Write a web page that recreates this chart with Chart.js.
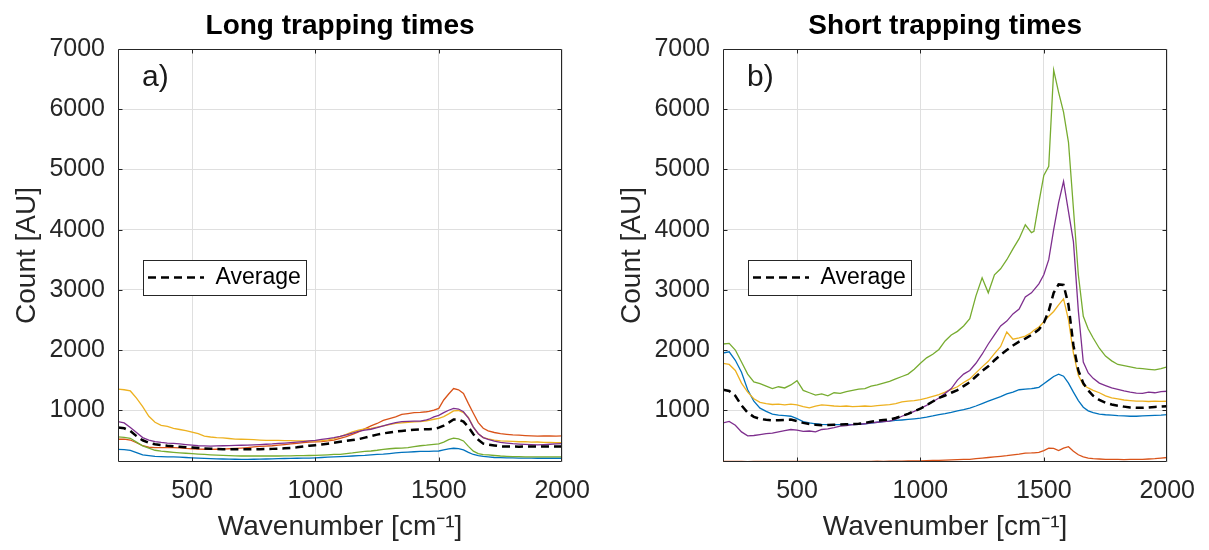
<!DOCTYPE html>
<html>
<head>
<meta charset="utf-8">
<script src="https://cdn.jsdelivr.net/npm/chart.js@4.4.1/dist/chart.umd.min.js"></script>
<style>
  html, body { margin: 0; padding: 0; background: #ffffff; }
  #wrap { position: relative; width: 1209px; height: 550px; overflow: hidden; }
  .panel { position: absolute; top: 0; width: 604px; height: 550px; }
  #p1 { left: 0; }
  #p2 { left: 605px; }
</style>
</head>
<body>
<div id="wrap">
  <div class="panel" id="p1"><canvas id="c1" width="604" height="550"></canvas></div>
  <div class="panel" id="p2"><canvas id="c2" width="604" height="550"></canvas></div>
</div>
<script>
// ---------------- data ----------------
const WAVENUMBERS = [200,225,250,275,300,325,350,375,400,425,450, 475,500,525,550,575,600,625,650,675,700, 725,750,775,800,825,850,875,900,925,950, 975,1000,1025,1050,1075,1100,1125,1150,1175,1200, 1225,1250,1275,1300,1325,1350,1375,1400,1425,1450, 1460,1480,1500,1520,1540,1560,1580,1600,1620,1640,1660,1680,1700, 1725,1750,1775,1800,1825,1850,1875,1900,1925,1950,1975,2000];

const PANEL_TITLES = ['Long trapping times', 'Short trapping times'];
const PANEL_TAGS = ['a)', 'b)'];
const SERIES_NAMES = ['Spectrum 1', 'Spectrum 2', 'Spectrum 3', 'Spectrum 4', 'Spectrum 5', 'Average'];
const X_MIN = 200, X_MAX = 2000, X_STEP = 500;
const Y_MIN = 140, Y_MAX = 7000, Y_STEP = 1000;
const X_LABEL = 'Wavenumber [cm\u207B\u00B9]';
const Y_LABEL = 'Count [AU]';

// Long trapping times
const LONG_BLUE = [351,345,334,295,257,245,235,230,226,224,220, 215,210,205,200,196,192,190,188,186,185, 185,186,188,190,193,196,198,200,202,204, 206,210,215,220,225,230,235,240,245,250, 258,265,270,279,290,300,305,310,315,318, 318,320,323,340,358,368,362,340,300,265,245,232,224, 215,212,210,208,205,204,203,202,202,202,202,202];
const LONG_ORANGE = [518,520,505,460,410,385,380,378,380,379,375, 365,360,355,352,350,352,355,360,365,372, 380,390,400,405,410,420,430,440,450,462, 470,475,480,490,505,534,560,600,640,690, 739,780,830,860,890,930,945,961,965,975, 980,1000,1030,1170,1270,1360,1340,1280,1110,950,795,700,656, 630,612,600,590,585,578,573,570,572,575,570,573];
const LONG_YELLOW = [1349,1340,1320,1200,1060,900,800,750,730,700,680, 660,635,610,570,555,545,540,530,520,518, 515,510,505,500,500,498,495,495,490,490, 488,490,495,505,530,560,600,640,670,690, 700,720,740,760,780,790,800,805,810,825, 830,850,865,895,940,990,995,960,880,720,610,545,525, 505,492,486,481,476,477,470,472,466,467,461,463];
const LONG_PURPLE = [811,790,712,630,545,505,480,465,455,448,440, 430,420,410,407,405,408,410,412,415,418, 420,423,428,435,440,448,455,462,470,479, 490,500,515,530,545,565,590,620,650,670, 684,710,740,770,795,811,815,818,820,840, 850,890,915,960,1000,1030,1020,975,870,720,610,545,515, 485,465,455,445,438,432,428,425,430,435,440,446];
const LONG_GREEN = [556,550,534,470,407,370,335,320,310,300,292, 285,279,272,265,260,255,250,245,242,240, 240,240,240,240,240,240,242,242,245,245, 248,250,255,260,265,268,280,290,305,315, 323,335,350,360,368,370,380,395,410,420, 425,432,440,470,510,535,525,490,400,320,280,262,257, 248,240,235,230,228,226,225,224,224,224,224,226];
const LONG_AVERAGE = [712,700,656,570,501,460,435,423,410,400,392, 385,379,372,365,360,355,352,351,351,351, 352,352,353,355,358,362,368,375,385,398, 410,420,432,445,460,475,490,505,520,545, 570,595,615,630,645,655,665,675,680,684, 686,690,710,745,795,845,845,810,720,600,510,445,430, 415,400,396,396,395,396,396,396,397,396,396,396];

// Short trapping times
const SHORT_BLUE = [1950,1970,1830,1630,1340,1150,1035,980,935,920,910, 900,860,810,790,775,765,760,762,760,765, 762,765,775,785,800,810,818,830,838,848, 858,870,885,905,928,945,965,990,1010,1035, 1070,1110,1150,1190,1225,1270,1300,1340,1350,1360, 1365,1380,1440,1500,1560,1600,1565,1450,1300,1160,1050,990,960, 935,925,920,910,905,900,900,905,910,915,920,928];
const SHORT_ORANGE = [150,152,148,150,147,150,149,151,150,150,148, 150,152,150,148,150,150,149,151,152,150, 150,151,150,152,153,152,154,155,156,157, 158,160,162,165,168,172,175,178,182,185, 195,205,215,225,235,245,258,270,288,290, 292,300,330,370,365,330,370,395,320,260,225,205,195, 190,185,183,182,180,182,182,185,190,195,205,215];
const SHORT_YELLOW = [1780,1760,1660,1450,1300,1190,1130,1110,1095,1100,1090, 1100,1090,1060,1040,1070,1090,1080,1070,1065,1070, 1060,1065,1070,1065,1075,1085,1094,1110,1140,1150, 1160,1175,1200,1230,1260,1300,1345,1390,1460,1520, 1620,1720,1812,1940,2060,2300,2180,2200,2230,2290, 2330,2380,2470,2560,2640,2750,2850,2500,1950,1580,1420,1370,1330, 1290,1240,1205,1190,1170,1160,1150,1150,1145,1150,1148,1149];
const SHORT_PURPLE = [790,815,750,640,575,580,595,610,620,640,660, 680,670,650,655,640,680,690,710,735,745, 760,765,775,790,800,810,818,850,900,940, 980,1030,1080,1140,1204,1280,1360,1500,1600,1660, 1780,1930,2100,2250,2400,2480,2600,2680,2880,2950, 3000,3100,3250,3500,4000,4450,4800,4300,3800,2650,1800,1620,1530, 1450,1410,1370,1345,1320,1300,1285,1280,1300,1290,1310,1315];
const SHORT_GREEN = [2100,2110,2000,1800,1600,1470,1440,1400,1360,1390,1370, 1420,1490,1330,1290,1250,1270,1240,1290,1280,1310, 1330,1350,1360,1400,1420,1450,1480,1520,1560,1600, 1680,1780,1870,1930,2010,2150,2250,2310,2400,2520, 2900,3200,2950,3250,3350,3500,3680,3850,4080,3950, 3970,4450,4900,5050,6650,6280,5950,5450,4350,3250,2560,2350,2200, 2030,1900,1820,1760,1740,1720,1700,1690,1680,1670,1690,1720];
const SHORT_AVERAGE = [1340,1320,1240,1080,960,890,855,840,830,835,840, 845,820,790,772,760,752,755,758,762,765, 770,775,790,810,825,838,845,870,905,940, 985,1025,1085,1145,1204,1245,1290,1335,1400,1465, 1560,1650,1730,1830,1920,2000,2075,2140,2190,2250, 2280,2340,2450,2650,2950,3090,3080,2750,2080,1660,1450,1330,1240, 1170,1125,1095,1075,1060,1045,1040,1040,1045,1055,1060,1066];

// ---------------- styling ----------------
const FONT = "'Liberation Sans', Arial, Helvetica, sans-serif";
const AXIS_COLOR = '#262626';
const GRID_COLOR = '#dfdfdf';
const COLORS = ['#0072BD', '#D95319', '#EDB120', '#7E2F8E', '#77AC30'];
const AVG_DASH = [8, 5];

[LONG_BLUE, LONG_ORANGE, LONG_YELLOW, LONG_PURPLE, LONG_GREEN, LONG_AVERAGE,
 SHORT_BLUE, SHORT_ORANGE, SHORT_YELLOW, SHORT_PURPLE, SHORT_GREEN, SHORT_AVERAGE].forEach((a, i) => {
  if (a.length !== WAVENUMBERS.length) throw new Error('series ' + i + ' has ' + a.length + ' values');
});

function toPoints(ys) { return WAVENUMBERS.map((x, i) => ({ x: x, y: ys[i] })); }

function makeDatasets(series, avg) {
  const ds = [{
    label: SERIES_NAMES[5], data: toPoints(avg), borderColor: '#000000', backgroundColor: '#000000',
    borderWidth: 2.5, borderDash: AVG_DASH, pointRadius: 0, tension: 0, fill: false
  }];
  // draw order: index 0 on top
  for (let k = series.length - 1; k >= 0; k--) {
    ds.push({
      label: SERIES_NAMES[k], data: toPoints(series[k]), borderColor: COLORS[k], backgroundColor: COLORS[k],
      borderWidth: 1.3, pointRadius: 0, tension: 0, fill: false
    });
  }
  return ds;
}

function stepTicks(min, max, step) {
  const out = [];
  for (let v = Math.ceil(min / step) * step; v <= max + 1e-9; v += step) out.push({ value: v });
  return out;
}

const framePlugin = {
  id: 'frame',
  afterLayout(chart, args, opts) {
    const lg = chart.legend, ca = chart.chartArea;
    if (!lg) return;
    const w = lg.width, h = lg.height;
    lg.left = ca.left + opts.legendDX;
    lg.top = ca.top + opts.legendDY;
    lg.right = lg.left + w;
    lg.bottom = lg.top + h;
    if (!lg._boxed) {
      const orig = lg.draw.bind(lg);
      lg.draw = function () {
        const ctx = chart.ctx;
        const lo = lg.options.labels;
        const fs = lo.font.size;
        ctx.save();
        ctx.font = fs + 'px ' + FONT;
        const tw = ctx.measureText(SERIES_NAMES[5]).width;
        const bw = lo.padding * 2 + lo.pointStyleWidth + fs / 2 + tw;
        const bh = lo.padding * 2 + fs + 2;
        const x0 = Math.round(lg.left) + 0.5, y0 = Math.round(lg.top) - 0.5;
        ctx.fillStyle = '#ffffff';
        ctx.fillRect(x0, y0, Math.round(bw), Math.round(bh));
        ctx.strokeStyle = '#262626';
        ctx.lineWidth = 1;
        ctx.strokeRect(x0, y0, Math.round(bw), Math.round(bh));
        ctx.restore();
        orig();
      };
      lg._boxed = true;
    }
  },
  afterDraw(chart, args, opts) {
    const ctx = chart.ctx, ca = chart.chartArea;
    const xs = chart.scales.x, ys = chart.scales.y;
    ctx.save();
    ctx.strokeStyle = AXIS_COLOR;
    ctx.lineWidth = 1;
    const L = Math.round(ca.left) + 0.5, R = Math.round(ca.right) - 0.5;
    const T = Math.round(ca.top) + 0.5, B = Math.round(ca.bottom) - 0.5;
    ctx.beginPath();
    ctx.rect(L, T, R - L, B - T);
    ctx.stroke();
    const tl = 4;
    ctx.beginPath();
    xs.ticks.forEach(t => {
      const p = Math.round(xs.getPixelForValue(t.value)) + 0.5;
      if (p <= L + 1 || p >= R - 1) return;
      ctx.moveTo(p, B); ctx.lineTo(p, B - tl);
      ctx.moveTo(p, T); ctx.lineTo(p, T + tl);
    });
    ys.ticks.forEach(t => {
      const p = Math.round(ys.getPixelForValue(t.value)) + 0.5;
      if (p <= T + 1 || p >= B - 1) return;
      ctx.moveTo(L, p); ctx.lineTo(L + tl, p);
      ctx.moveTo(R, p); ctx.lineTo(R - tl, p);
    });
    ctx.stroke();
    // panel tag
    ctx.fillStyle = '#1a1a1a';
    ctx.font = '30px ' + FONT;
    ctx.textBaseline = 'middle';
    ctx.textAlign = 'left';
    ctx.fillText(opts.tag, ca.left + opts.tagDX, ca.top + opts.tagDY);
    ctx.restore();
  }
};

function makeChart(canvasId, title, tag, series, avg, rightPad) {
  return new Chart(document.getElementById(canvasId), {
    type: 'line',
    data: { datasets: makeDatasets(series, avg) },
    options: {
      responsive: false,
      devicePixelRatio: 1,
      animation: false,
      events: [],
      layout: { padding: { left: 0, right: rightPad, top: 0, bottom: 0 } },
      plugins: {
        tooltip: { enabled: false },
        title: {
          display: true, text: title, fullSize: false, color: '#000000',
          font: { family: FONT, size: 28, weight: 'bold', lineHeight: 1.2 },
          padding: { top: 9, bottom: 6.4 }
        },
        legend: {
          display: true, position: 'chartArea', align: 'start',
          labels: {
            filter: item => item.text === SERIES_NAMES[5],
            generateLabels: chart => Chart.defaults.plugins.legend.labels.generateLabels(chart).map(item => {
              const ds = chart.data.datasets[item.datasetIndex];
              item.lineDash = ds.borderDash || [];
              item.lineWidth = ds.borderWidth;
              item.strokeStyle = ds.borderColor;
              return item;
            }),
            usePointStyle: true, pointStyle: 'line', pointStyleWidth: 56,
            padding: 5, color: '#000000',
            font: { family: FONT, size: 23 }
          }
        },
        frame: { legendDX: 25, legendDY: 212, tag: tag, tagDX: 24, tagDY: 29 }
      },
      scales: {
        x: {
          type: 'linear', min: X_MIN, max: X_MAX,
          afterBuildTicks: s => { s.ticks = stepTicks(X_MIN, X_MAX, X_STEP); },
          ticks: {
            autoSkip: false, maxRotation: 0,
            color: AXIS_COLOR, padding: 14, font: { family: FONT, size: 25 },
            callback: v => String(v)
          },
          grid: { color: GRID_COLOR, lineWidth: 1, drawTicks: false },
          border: { display: false },
          title: {
            display: true, text: X_LABEL, color: AXIS_COLOR,
            font: { family: FONT, size: 28, lineHeight: 1.2 },
            padding: { top: 0, bottom: 6 }
          },
          afterFit: s => { s.height = 88; }
        },
        y: {
          type: 'linear', min: Y_MIN, max: Y_MAX,
          afterBuildTicks: s => { s.ticks = stepTicks(Y_MIN, Y_MAX, Y_STEP); },
          ticks: {
            autoSkip: false,
            color: AXIS_COLOR, padding: 13, font: { family: FONT, size: 25 },
            callback: v => String(v)
          },
          grid: { color: GRID_COLOR, lineWidth: 1, drawTicks: false },
          border: { display: false },
          title: {
            display: true, text: Y_LABEL, color: AXIS_COLOR,
            font: { family: FONT, size: 28, lineHeight: 1.2 },
            padding: { top: 10, bottom: 0 }
          },
          afterFit: s => { s.width = 118; }
        }
      }
    },
    plugins: [framePlugin]
  });
}

makeChart('c1', PANEL_TITLES[0], PANEL_TAGS[0],
  [LONG_BLUE, LONG_ORANGE, LONG_YELLOW, LONG_PURPLE, LONG_GREEN], LONG_AVERAGE, 32);
makeChart('c2', PANEL_TITLES[1], PANEL_TAGS[1],
  [SHORT_BLUE, SHORT_ORANGE, SHORT_YELLOW, SHORT_PURPLE, SHORT_GREEN], SHORT_AVERAGE, 33);
</script>
</body>
</html>
